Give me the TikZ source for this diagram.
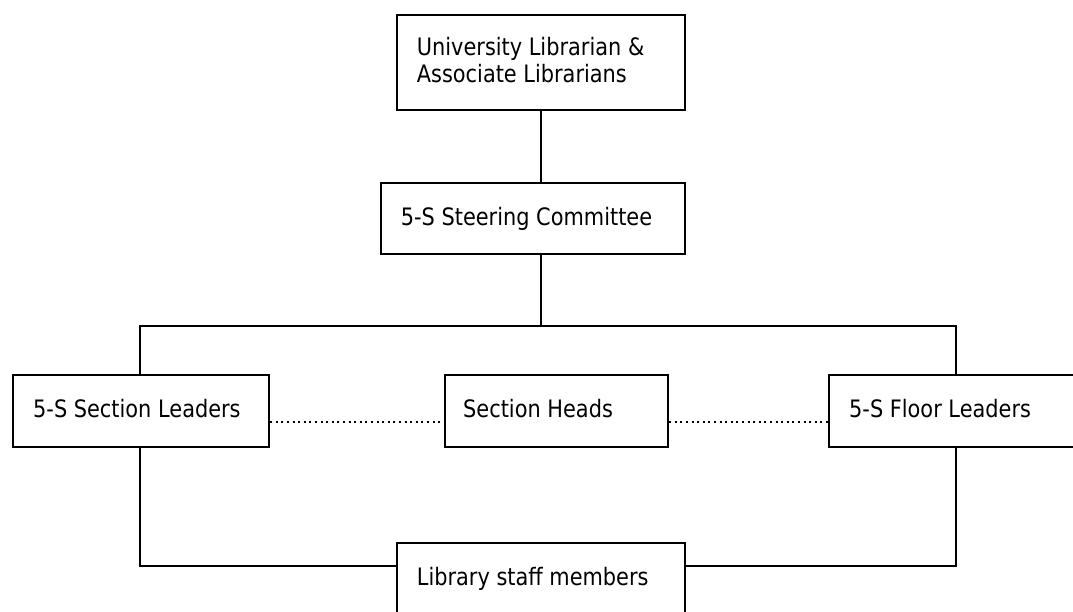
\documentclass[tikz,border=0pt]{standalone}
\usepackage{fontspec}
\setmainfont{DejaVu Sans}[FakeStretch=0.87]
\begin{document}
\begin{tikzpicture}[x=1pt,y=-1pt,
  box/.style={draw=black,line width=1.9pt,rectangle,anchor=north west,inner sep=0pt},
  lbl/.style={anchor=base west,inner sep=0pt,font=\fontsize{24}{28}\selectfont},
  conn/.style={draw=black,line width=1.8pt},
  dotline/.style={draw=black,line width=2pt,dash pattern=on 2pt off 3.6pt}]
\useasboundingbox (0,0) rectangle (1073,611);
\clip (0,0) rectangle (1073,611);
\fill[white] (0,0) rectangle (1073,611);
% boxes
\node[box,minimum width=288pt,minimum height=95pt] (top) at (396,14) {};
\node[box,minimum width=304pt,minimum height=71pt] (steer) at (380,182) {};
\node[box,minimum width=256.6pt,minimum height=72pt] (left) at (11.7,374) {};
\node[box,minimum width=223.3pt,minimum height=72pt] (mid) at (444,374) {};
\node[box,minimum width=270pt,minimum height=72pt] (right) at (828.3,374) {};
\node[box,minimum width=288pt,minimum height=90pt] (bottom) at (396,542) {};
% labels
\node[lbl] (topA) at (416.7,55.7) {University Librarian \&};
\node[lbl] (topB) at (416.7,82) {Associate Librarians};
\node[lbl] (steerT) at (400.7,225) {5-S Steering Committee};
\node[lbl] (leftT) at (33,417.5) {5-S Section Leaders};
\node[lbl] (midT) at (463,417.5) {Section Heads};
\node[lbl] (rightT) at (849,417.5) {5-S Floor Leaders};
\node[lbl] (bottomT) at (416.7,585) {Library staff members};
% coordinates
\coordinate (busL) at (140,325.7);
\coordinate (busM) at (541,325.7);
\coordinate (busR) at (956,325.7);
\coordinate (lowL) at (140,565.7);
\coordinate (lowR) at (956,565.7);
\coordinate (dotY) at (268.3,422);
% connectors
\draw[conn] (top.south -| busM) -- (steer.north -| busM);
\draw[conn] (steer.south -| busM) -- (busM);
\draw[conn] (left.north -| busL) -- (busL) -- (busR) -- (busR |- right.north);
\draw[conn] (left.south -| lowL) -- (lowL) -- (lowL -| bottom.west);
\draw[conn] (right.south -| lowR) -- (lowR) -- (lowR -| bottom.east);
\draw[dotline] (dotY -| left.east) -- (dotY -| mid.west);
\draw[dotline] (dotY -| mid.east) -- (dotY -| right.west);
\end{tikzpicture}
\end{document}
